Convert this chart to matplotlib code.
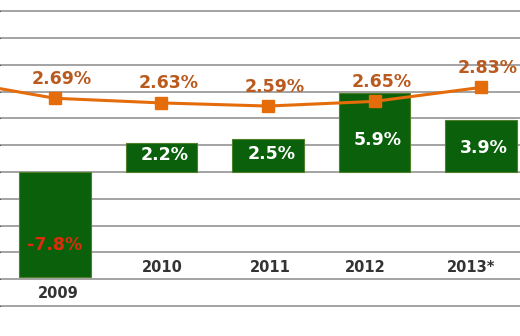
import numpy as np
import matplotlib.pyplot as plt

DPI = 100

years = ['2009', '2010', '2011', '2012', '2013*']
growth = [-7.8, 2.2, 2.5, 5.9, 3.9]          # bar series, %
rate_years = ['2008', '2009', '2010', '2011', '2012', '2013*']
rate = [2.93, 2.69, 2.63, 2.59, 2.65, 2.83]   # line series, %

bar_green = '#0b610b'
line_orange = '#e46c0a'
label_brown = '#b95a1f'

x = np.arange(len(years))
x_rate = np.arange(len(rate_years)) - 1

fig = plt.figure(figsize=(520 / DPI, 336 / DPI), dpi=DPI)
ax = fig.add_axes([0, 0, 1, 1])
ax.set_xlim(-0.516, 4.366)
ax.set_ylim(-12.24, 12.84)
ax.set_yticks(np.arange(-10, 13, 2))
ax.yaxis.grid(True, color='#9c9c9c', linewidth=1.3)
ax.set_axisbelow(True)
for s in ax.spines.values():
    s.set_visible(False)
ax.tick_params(left=False, bottom=False, labelleft=False, labelbottom=False)

bars = ax.bar(x, growth, width=0.67, color=bar_green, edgecolor='#4f7f2a', linewidth=0.8, zorder=2)

# value labels inside the bars
for xi, v in zip(x, growth):
    if v < 0:
        ax.text(xi, v * 0.7, f'{v:.1f}%', ha='center', va='center', color='#dd2c0c',
                fontsize=12.5, fontweight='bold', zorder=3)
    else:
        ax.text(xi + 0.03, 0.3 * v + 0.6, f'{v:.1f}%', ha='center', va='center',
                color='white', fontsize=12.5, fontweight='bold', zorder=3)

# year labels; 2009 sits under its (negative) bar
nudge = [0.03, 0.01, 0.02, -0.09, -0.09]
for xi, yr, v, dx in zip(x, years, growth, nudge):
    yy = v - 1.3 if v < 0 else -7.1
    ax.text(xi + dx, yy, yr, ha='center', va='center', color='#333333',
            fontsize=10.5, fontweight='bold', zorder=3)

# rate line on its own scale
ax2 = ax.twinx()
ax2.set_ylim(-0.370, 3.955)
ax2.axis('off')
ax2.plot(x_rate, rate, color=line_orange, linewidth=2.2, marker='s', markersize=8.5,
         zorder=4)
for xi, v, yr in zip(x_rate, rate, rate_years):
    if yr == '2008':
        continue
    ax2.annotate(f'{v:.2f}%', (xi, v), xytext=(5, 14), textcoords='offset points',
                 ha='center', va='center', color=label_brown, fontsize=12.5,
                 fontweight='bold')

plt.savefig('out.png', dpi=DPI)
